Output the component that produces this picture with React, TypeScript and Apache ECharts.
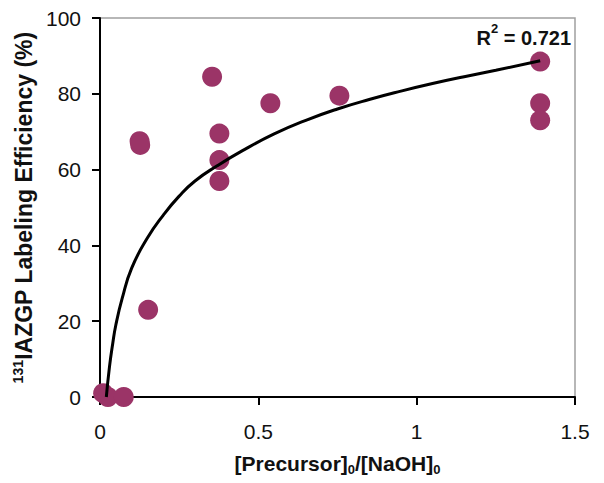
import React, { useEffect, useRef } from "react";
import * as echarts from "echarts";

// Measured points: ratio [Precursor]0/[NaOH]0 and labeling efficiency (%)
const ratioValues = [0.01, 0.025, 0.075, 0.125, 0.127, 0.152, 0.354, 0.377, 0.377, 0.377, 0.538, 0.756, 1.39, 1.39, 1.39];
const efficiencyValues = [1, 0, 0, 67.5, 66.5, 23, 84.5, 69.5, 62.5, 57, 77.5, 79.5, 88.5, 77.5, 73];

// Trend curve
const trendX = [0.02, 0.03, 0.04, 0.05, 0.07, 0.1, 0.15, 0.2, 0.25, 0.3, 0.37, 0.45, 0.55, 0.65, 0.75, 0.85, 0.95, 1.05, 1.15, 1.25, 1.39];
const trendY = [0, 8, 14, 19, 26, 34, 42, 48, 53, 57, 61, 65, 69.4, 73, 76, 78.5, 80.7, 82.7, 84.5, 86.2, 88.7];

const xTicks = [0, 0.5, 1, 1.5];
const yTicks = [0, 20, 40, 60, 80, 100];
const rSquared = "0.721";

const FONT = "Liberation Sans";

export default function App() {
  const ref = useRef<HTMLDivElement>(null);
  useEffect(() => {
    if (!ref.current) return;
    const chart = echarts.init(ref.current, undefined, { renderer: "svg" });
    const scatter = ratioValues.map((x, i) => [x, efficiencyValues[i]]);
    const trend = trendX.map((x, i) => [x, trendY[i]]);
    chart.setOption({
      animation: false,
      backgroundColor: "#ffffff",
      textStyle: { fontFamily: FONT },
      grid: {
        left: 100,
        right: 29,
        top: 18,
        bottom: 86,
        show: true,
        borderColor: "#a0a0a0",
        borderWidth: 1.5,
      },
      xAxis: {
        type: "value",
        min: xTicks[0],
        max: xTicks[xTicks.length - 1],
        interval: 0.5,
        axisLine: { show: true, onZero: false, lineStyle: { color: "#000", width: 2 } },
        axisTick: { show: true, inside: false, length: 8, lineStyle: { color: "#000", width: 2 } },
        splitLine: { show: false },
        axisLabel: { color: "#111", fontSize: 21, fontFamily: FONT, margin: 24 },
        name: "{b|[Precursor]}{s|0}{b|/[NaOH]}{s|0}",
        nameLocation: "middle",
        nameGap: 53,
        nameTextStyle: {
          rich: {
            b: { fontSize: 21, fontWeight: "bold", color: "#111", fontFamily: FONT, lineHeight: 26, verticalAlign: "middle" },
            s: { fontSize: 13, fontWeight: "bold", color: "#111", fontFamily: FONT, lineHeight: 26, verticalAlign: "bottom", padding: [12, 0, 0, 0] },
          },
        },
      },
      yAxis: {
        type: "value",
        min: yTicks[0],
        max: yTicks[yTicks.length - 1],
        interval: 20,
        axisLine: { show: true, lineStyle: { color: "#000", width: 2 } },
        axisTick: { show: true, inside: false, length: 8, lineStyle: { color: "#000", width: 2 } },
        splitLine: { show: false },
        axisLabel: { color: "#111", fontSize: 21, fontFamily: FONT, margin: 19 },
        name: "{s|131}{b|IAZGP Labeling Efficiency (%)}",
        nameLocation: "middle",
        nameGap: 60,
        nameTextStyle: {
          rich: {
            b: { fontSize: 23, fontWeight: "bold", color: "#111", fontFamily: FONT, lineHeight: 26, verticalAlign: "middle" },
            s: { fontSize: 14, fontWeight: "bold", color: "#111", fontFamily: FONT, lineHeight: 26, verticalAlign: "top", padding: [0, 0, 10, 0] },
          },
        },
      },
      graphic: [
        {
          type: "text",
          right: 33,
          top: 22,
          style: {
            text: "{b|R}{s|2}{b| = " + rSquared + "}",
            rich: {
              b: { fontSize: 20, fontWeight: "bold", fill: "#111", fontFamily: FONT, lineHeight: 26, verticalAlign: "bottom" },
              s: { fontSize: 13, fontWeight: "bold", fill: "#111", fontFamily: FONT, lineHeight: 26, verticalAlign: "top", padding: [0, 0, 8, 0] },
            },
          },
          z: 100,
        },
      ],
      series: [
        {
          type: "scatter",
          data: scatter,
          symbol: "circle",
          symbolSize: 20,
          itemStyle: { color: "#9b3467", opacity: 1 },
          z: 2,
        },
        {
          type: "line",
          data: trend,
          smooth: true,
          showSymbol: false,
          symbol: "none",
          lineStyle: { color: "#000", width: 3 },
          z: 3,
        },
      ],
    });
    return () => chart.dispose();
  }, []);
  return <div ref={ref} style={{ width: 604, height: 483, margin: -8 }} />;
}
